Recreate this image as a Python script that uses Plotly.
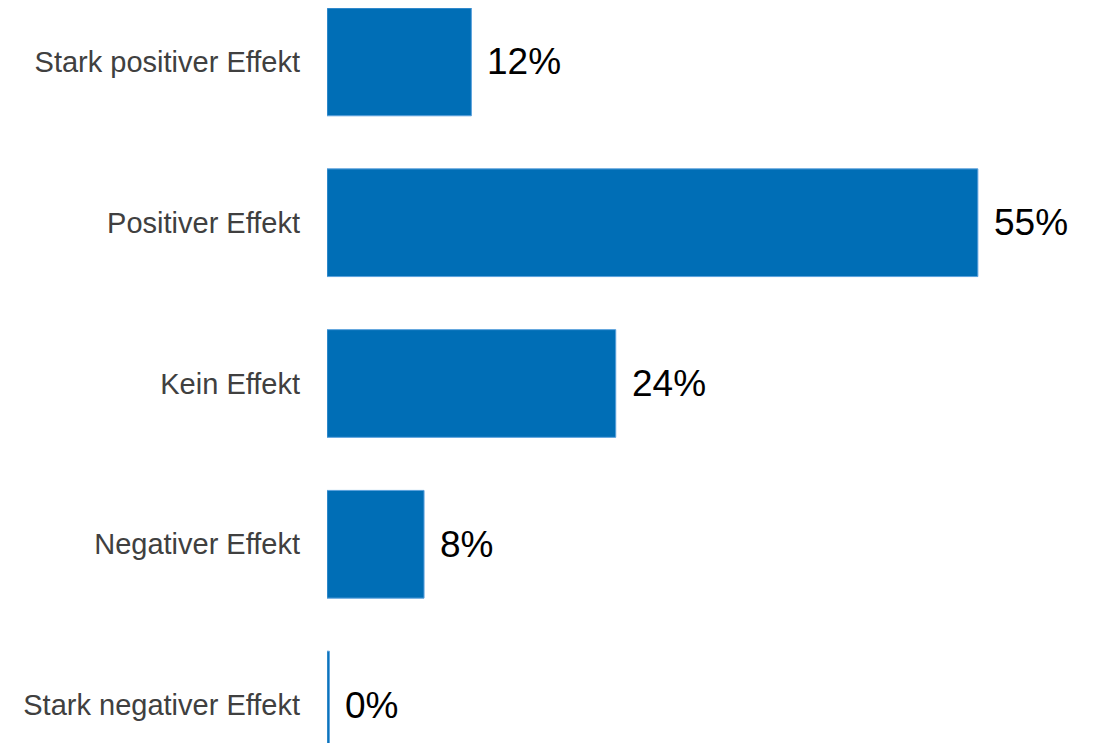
import plotly.graph_objects as go

categories = ["Stark positiver Effekt", "Positiver Effekt", "Kein Effekt",
              "Negativer Effekt", "Stark negativer Effekt"]
values = [12.2, 55.0, 24.4, 8.2, 0.2]
labels = ["12%", "55%", "24%", "8%", "0%"]

BAR = "#006EB6"
EDGE = "#5AA0DC"

fig = go.Figure()
fig.add_trace(go.Bar(
    y=categories, x=values, orientation="h",
    marker=dict(color=BAR, line=dict(color=EDGE, width=1)),
    hoverinfo="skip",
))

for c, v, t in zip(categories, values, labels):
    fig.add_annotation(x=v, y=c, text=t, showarrow=False, xanchor="left",
                       yanchor="middle", xshift=14,
                       font=dict(family="Liberation Sans, Arial", size=37, color="#000000"))

fig.update_layout(
    width=1087, height=735,
    margin=dict(l=319, r=0, t=0, b=0),
    paper_bgcolor="white", plot_bgcolor="white",
    bargap=0.33, showlegend=False,
    font=dict(family="Liberation Sans, Arial"),
)
fig.update_xaxes(range=[0, 64.9], visible=False, fixedrange=True)
fig.update_yaxes(
    categoryorder="array", categoryarray=categories,
    range=[4.236, -0.3354],
    showgrid=False, zeroline=False, showline=False, ticks="",
    ticklabelstandoff=26,
    tickfont=dict(family="Liberation Sans, Arial", size=29, color="#404040"),
)
fig.write_html("out.html")
